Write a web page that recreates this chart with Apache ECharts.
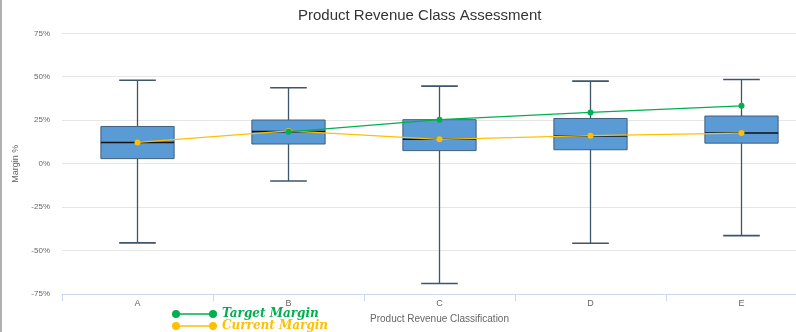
<!DOCTYPE html>
<html><head><meta charset="utf-8">
<script src="https://cdn.jsdelivr.net/npm/echarts@6/dist/echarts.min.js"></script>
<style>html,body{margin:0;padding:0;background:#fff;overflow:hidden;width:796px;height:332px}#c{width:820px;height:332px}</style>
</head><body><div id="c"></div>
<script>
const categories = ['A','B','C','D','E'];
const whiskerLow = [-45.6, -10.0, -69.0, -45.8, -41.4];
const boxLow = [2.9, 11.3, 7.5, 8.0, 11.8];
const medians = [12.2, 18.4, 14.0, 15.9, 17.6];
const boxHigh = [21.4, 25.1, 25.3, 26.0, 27.4];
const whiskerHigh = [48.0, 43.7, 44.6, 47.5, 48.4];
const targetMargin = [null, 18.3, 25.3, 29.5, 33.3];
const currentMargin = [12.2, 18.8, 14.0, 16.1, 17.6];
const yTicks = [-75, -50, -25, 0, 25, 50, 75];

const boxData = categories.map((c, i) => [i, whiskerLow[i], boxLow[i], medians[i], boxHigh[i], whiskerHigh[i]]);

const chart = echarts.init(document.getElementById('c'));
const legendIcon = 'path://M0,4.2 L45,4.2 L45,5.8 L0,5.8 Z M4,1 A4,4 0 1,1 4,9 A4,4 0 1,1 4,1 Z M41,1 A4,4 0 1,1 41,9 A4,4 0 1,1 41,1 Z';
const legendText = {fontFamily: 'DejaVu Serif', fontStyle: 'italic', fontWeight: 'bold', fontSize: 12};
chart.setOption({
  animation: false,
  title: {
    text: 'Product Revenue Class Assessment',
    left: 293, top: 3,
    textStyle: {fontFamily: 'Liberation Sans', fontSize: 15, fontWeight: 'normal', color: '#333'}
  },
  graphic: [{type: 'rect', shape: {x: 0, y: 0, width: 2, height: 332}, style: {fill: '#b0b0b0'}}],
  legend: [
    {left: 172, top: 308, itemWidth: 45, itemHeight: 8, padding: 0,
      data: [{name: 'Target Margin', icon: legendIcon}],
      textStyle: Object.assign({color: '#00b050'}, legendText)},
    {left: 172, top: 320, itemWidth: 45, itemHeight: 8, padding: 0,
      data: [{name: 'Current Margin', icon: legendIcon}],
      textStyle: Object.assign({color: '#ffc000'}, legendText)}
  ],
  grid: {left: 62, right: 3, top: 33.3, bottom: 38},
  xAxis: {
    type: 'category', data: categories,
    name: 'Product Revenue Classification', nameLocation: 'middle', nameGap: 20,
    nameTextStyle: {fontFamily: 'Liberation Sans', fontSize: 10, color: '#666'},
    axisLine: {onZero: false, lineStyle: {color: '#ccd6eb'}},
    axisTick: {show: true, length: 7, lineStyle: {color: '#ccd6eb'}},
    axisLabel: {fontFamily: 'Liberation Sans', fontSize: 9, color: '#666', margin: 5},
    splitLine: {show: false}
  },
  yAxis: {
    type: 'value', min: -75, max: 75, interval: 25,
    name: 'Margin %', nameLocation: 'middle', nameGap: 33, nameRotate: 90,
    nameTextStyle: {fontFamily: 'Liberation Sans', fontSize: 9, color: '#666'},
    axisLine: {show: false}, axisTick: {show: false},
    axisLabel: {fontFamily: 'Liberation Sans', fontSize: 8, color: '#666', margin: 12,
      formatter: v => yTicks.includes(v) ? v + '%' : ''},
    splitLine: {lineStyle: {color: '#e6e6e6'}}
  },
  series: [
    {
      type: 'custom', name: 'Distribution', data: boxData, z: 2,
      renderItem: function (params, api) {
        const x = api.value(0);
        const pWL = api.coord([x, api.value(1)]);
        const pBL = api.coord([x, api.value(2)]);
        const pM = api.coord([x, api.value(3)]);
        const pBH = api.coord([x, api.value(4)]);
        const pWH = api.coord([x, api.value(5)]);
        const band = api.size([1, 0])[0];
        const bw = band * 0.485, cw = bw * 0.5;
        const cx = pM[0];
        const wc = '#3d566b';
        return {type: 'group', children: [
          {type: 'line', shape: {x1: cx, y1: pWH[1], x2: cx, y2: pBH[1]}, style: {stroke: wc, lineWidth: 1.3}},
          {type: 'line', shape: {x1: cx, y1: pBL[1], x2: cx, y2: pWL[1]}, style: {stroke: wc, lineWidth: 1.3}},
          {type: 'line', shape: {x1: cx - cw/2, y1: pWH[1], x2: cx + cw/2, y2: pWH[1]}, style: {stroke: wc, lineWidth: 1.6}},
          {type: 'line', shape: {x1: cx - cw/2, y1: pWL[1], x2: cx + cw/2, y2: pWL[1]}, style: {stroke: wc, lineWidth: 1.6}},
          {type: 'rect', shape: {x: cx - bw/2, y: pBH[1], width: bw, height: pBL[1] - pBH[1]},
            style: {fill: '#5b9bd5', stroke: '#3f5f7c', lineWidth: 1}},
          {type: 'line', shape: {x1: cx - bw/2, y1: pM[1], x2: cx + bw/2, y2: pM[1]}, style: {stroke: '#111', lineWidth: 1.6}}
        ]};
      }
    },
    {
      type: 'line', name: 'Current Margin', data: currentMargin, z: 3,
      symbol: 'circle', symbolSize: 6, showSymbol: true,
      lineStyle: {color: '#ffc000', width: 1.3}, itemStyle: {color: '#ffc000'}
    },
    {
      type: 'line', name: 'Target Margin', data: targetMargin, z: 4,
      symbol: 'circle', symbolSize: 6, showSymbol: true,
      lineStyle: {color: '#00b050', width: 1.3}, itemStyle: {color: '#00b050'}
    }
  ]
});
</script></body></html>
